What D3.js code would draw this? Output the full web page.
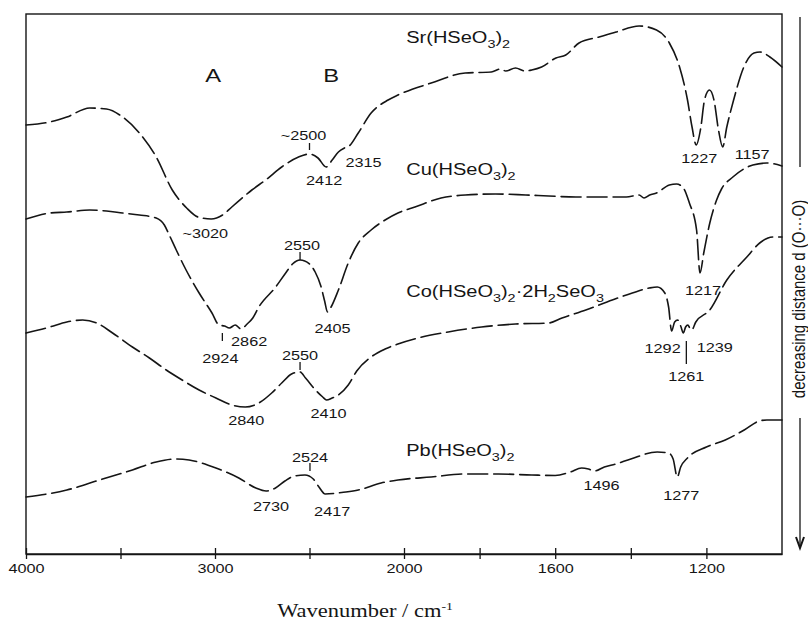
<!DOCTYPE html>
<html>
<head>
<meta charset="utf-8">
<script src="https://cdn.jsdelivr.net/npm/d3@7"></script>
<style>
  body { margin: 0; background: #fff; }
  svg text { font-family: "Liberation Sans", Arial, sans-serif; fill: #151515; }
</style>
</head>
<body>
<svg id="chart" width="808" height="621"></svg>
<script>
// ---- spectra: [wavenumber (cm-1), relative transmittance (offset, a.u.)] ----
const srSpectrum = [
  [4000,85.8],[3874,86.4],[3784,87.4],[3663,89.2],[3574,89.0],[3489,87.4],[3400,84.2],
  [3311,79.4],[3226,72.8],[3150,69.2],[3090,67.4],[3020,67.0],[2960,67.8],[2911,69.4],
  [2805,72.8],[2732,74.8],[2647,77.4],[2558,79.4],[2500,80.0],[2455,79.2],[2412,77.4],
  [2380,78.8],[2347,80.4],[2315,81.2],[2290,81.6],[2242,84.2],[2174,88.2],[2084,90.8],
  [2032,91.8],[1928,94.2],[1838,96.2],[1769,96.4],[1745,97.0],[1731,96.6],[1705,97.2],
  [1680,96.6],[1662,96.8],[1636,97.4],[1598,99.2],[1572,99.8],[1537,102.2],[1484,103.4],
  [1439,104.4],[1378,105.6],[1332,104.8],[1298,102.2],[1271,97.4],[1250,90.8],[1238,85.4],
  [1227,81.8],[1215,85.2],[1205,90.8],[1192,92.8],[1180,90.8],[1168,84.8],[1157,81.4],
  [1146,85.4],[1128,90.8],[1101,97.4],[1074,100.2],[1058,100.4],[1032,99.4],[1000,97.4]
];
const cuSpectrum = [
  [4000,67.0],[3874,68.2],[3784,68.4],[3663,68.8],[3574,68.6],[3489,68.2],[3400,67.8],
  [3311,67.2],[3268,65.8],[3242,63.8],[3205,60.8],[3153,56.8],[3084,52.2],[3016,48.2],
  [2979,45.8],[2950,45.6],[2924,45.2],[2893,45.8],[2862,45.0],[2830,46.0],[2800,47.2],
  [2768,49.4],[2679,53.4],[2626,56.2],[2590,58.0],[2550,58.8],[2500,58.0],[2470,56.4],
  [2440,53.6],[2420,50.6],[2405,48.4],[2389,49.2],[2347,52.8],[2295,58.2],[2242,62.2],
  [2174,64.8],[2100,66.8],[2032,68.2],[1971,69.4],[1902,71.2],[1838,71.8],[1758,72.0],
  [1678,71.8],[1617,71.6],[1545,71.4],[1465,71.4],[1412,71.4],[1378,71.8],[1365,71.2],
  [1350,71.8],[1332,72.2],[1298,73.8],[1279,74.0],[1261,73.2],[1245,70.2],[1226,64.8],
  [1217,56.2],[1207,60.2],[1191,66.2],[1173,70.8],[1160,73.0],[1130,75.4],[1077,77.8],
  [1040,78.2],[1000,77.6]
];
const coSpectrum = [
  [4000,44.2],[3874,45.4],[3784,46.4],[3700,46.8],[3626,46.2],[3542,44.2],[3437,41.4],
  [3347,39.2],[3258,36.8],[3174,34.8],[3084,32.8],[2995,31.2],[2911,29.8],[2840,29.4],
  [2768,30.2],[2700,32.2],[2647,34.2],[2595,36.0],[2550,36.4],[2521,35.2],[2468,32.8],
  [2430,31.4],[2410,30.8],[2380,31.2],[2347,31.8],[2295,33.8],[2250,36.6],[2174,39.4],
  [2100,41.0],[2032,42.0],[1963,43.2],[1883,44.4],[1795,45.4],[1705,46.0],[1617,46.2],
  [1582,47.2],[1519,48.8],[1449,50.8],[1396,52.2],[1351,53.2],[1330,53.4],[1310,52.2],
  [1300,49.4],[1292,44.6],[1284,46.4],[1276,46.8],[1268,45.6],[1261,44.2],[1255,45.4],
  [1249,45.8],[1244,45.2],[1239,44.8],[1228,46.4],[1191,48.8],[1146,54.8],[1093,59.4],
  [1059,62.2],[1024,63.4],[1000,63.4]
];
const pbSpectrum = [
  [4000,11.4],[3784,12.8],[3611,14.8],[3437,16.8],[3311,18.4],[3205,19.0],[3137,18.8],
  [2995,17.2],[2874,15.2],[2784,13.2],[2730,12.6],[2680,13.2],[2630,14.6],[2580,15.6],
  [2524,15.8],[2480,15.0],[2450,13.4],[2417,12.0],[2370,12.1],[2330,12.3],[2242,12.8],
  [2121,14.2],[2032,14.8],[1928,15.4],[1838,16.0],[1750,16.0],[1662,15.8],[1600,15.7],
  [1560,16.4],[1530,17.2],[1512,17.0],[1496,16.6],[1470,17.4],[1440,18.0],[1400,19.0],
  [1330,20.4],[1300,20.2],[1288,19.0],[1277,15.4],[1268,17.4],[1250,19.2],[1200,21.4],
  [1150,22.8],[1100,24.8],[1060,26.6],[1040,26.8],[1000,26.8]
];

// ---- compound names (underscore marks a subscript digit) ----
const compounds = ["Sr(HSeO_3)_2", "Cu(HSeO_3)_2", "Co(HSeO_3)_2\u00B72H_2SeO_3", "Pb(HSeO_3)_2"];

// ---- assigned band positions and their labels ----
const srPeaks = [2500, 2412, 2315, 3020, 1227, 1157];
const srPeakText = ["~2500", "2412", "2315", "~3020", "1227", "1157"];
const cuPeaks = [2550, 2405, 2924, 2862, 1217];
const cuPeakText = ["2550", "2405", "2924", "2862", "1217"];
const coPeaks = [2550, 2840, 2410, 1292, 1261, 1239];
const coPeakText = ["2550", "2840", "2410", "1292", "1261", "1239"];
const pbPeaks = [2524, 2730, 2417, 1496, 1277];
const pbPeakText = ["2524", "2730", "2417", "1496", "1277"];

// ---- axis ticks ----
const tickValues = [4000, 3500, 3000, 2500, 2000, 1800, 1600, 1400, 1200];
const tickLabels = ["4000", "", "3000", "", "2000", "", "1600", "", "1200"];
const regionLabels = ["A", "B"];
const regionWavenumbers = [3010, 2385];

// ---- layout ----
const plot = { left: 26, right: 782, top: 14, bottom: 554 };
const SX = 1.25;        // horizontal stretch of the lettering
const INK = "#151515";

// label offsets (px) from the curve point at the band position
const peakLayout = {
  Sr: [ {dx:-6, dy:-14, tick:[0,-11,-4]}, {dx:-2, dy:18}, {dx:1, dy:19, anchor:"start"},
        {dx:-6, dy:19}, {dx:3, dy:18}, {dx:12, dy:12, anchor:"start"} ],
  Cu: [ {dx:2, dy:-10, tick:[0,-8,0]}, {dx:5, dy:21}, {dx:-9, dy:35, tick:[-7,5,13]},
        {dx:-10, dy:17, anchor:"start"}, {dx:3, dy:22} ],
  Co: [ {dx:0, dy:-12, tick:[0,-10,-2]}, {dx:1, dy:18}, {dx:2, dy:18}, {dx:-9, dy:22},
        {dx:3, dy:48, tick:[3,8,31]}, {dx:5, dy:22, anchor:"start"} ],
  Pb: [ {dx:5, dy:-13, tick:[5,-12,-4]}, {dx:5, dy:20}, {dx:7, dy:22}, {dx:7, dy:19}, {dx:4, dy:23} ]
};
const nameValues = [102.2, 75.8, 51.4, 19.6];   // vertical place of each compound name
const nameWavenumber = 1994;

const series = [
  { key: "Sr", data: srSpectrum, peaks: srPeaks, text: srPeakText },
  { key: "Cu", data: cuSpectrum, peaks: cuPeaks, text: cuPeakText },
  { key: "Co", data: coSpectrum, peaks: coPeaks, text: coPeakText },
  { key: "Pb", data: pbSpectrum, peaks: pbPeaks, text: pbPeakText }
];

// ---- scales: the wavenumber axis doubles its scale below 2000 cm-1 ----
const x = d3.scaleLinear()
  .domain([4000, 2000, 1000])
  .range([plot.left, (plot.left + plot.right) / 2, plot.right]);
const y = d3.scaleLinear().domain([0, 108]).range([plot.bottom, plot.top]);

const svg = d3.select("#chart");

// text helper: "_" marks a subscript character
function addText(sel, px, py, str, opts = {}) {
  const size = opts.size || 13;
  const t = sel.append("text")
    .attr("transform", `translate(${px},${py}) scale(${opts.sx ?? SX},1)`)
    .attr("text-anchor", opts.anchor || "middle")
    .style("font-size", size + "px");
  if (opts.family) t.style("font-family", opts.family);
  const tokens = [];
  for (let i = 0; i < str.length; i++) {
    if (str[i] === "_") { tokens.push({ s: str[i + 1], sub: true }); i++; }
    else if (tokens.length && !tokens[tokens.length - 1].sub) tokens[tokens.length - 1].s += str[i];
    else tokens.push({ s: str[i], sub: false });
  }
  let shifted = 0;
  const off = size * 0.3;
  tokens.forEach(tk => {
    const sp = t.append("tspan").text(tk.s);
    if (tk.sub) {
      sp.style("font-size", (size * 0.72) + "px").attr("dy", off - shifted);
      shifted = off;
    } else {
      sp.attr("dy", -shifted);
      shifted = 0;
    }
  });
  return t;
}

// value of a spectrum at a given wavenumber (linear between samples)
function valueAt(data, wn) {
  for (let i = 0; i < data.length - 1; i++) {
    const [w0, v0] = data[i], [w1, v1] = data[i + 1];
    if (wn <= w0 && wn >= w1) return v0 + (v1 - v0) * (w0 - wn) / (w0 - w1);
  }
  return data[data.length - 1][1];
}

// ---- frame ----
svg.append("rect")
  .attr("x", plot.left).attr("y", plot.top)
  .attr("width", plot.right - plot.left).attr("height", plot.bottom - plot.top)
  .attr("fill", "none").attr("stroke", INK).attr("stroke-width", 1.4);

// ---- bottom axis: ticks cross the axis line ----
const axisDown = d3.axisBottom(x).tickValues(tickValues).tickSize(5).tickPadding(5)
  .tickFormat((d, i) => tickLabels[i]).tickSizeOuter(0);
const axisUp = d3.axisTop(x).tickValues(tickValues).tickSize(6).tickFormat("").tickSizeOuter(0);

const gAx = svg.append("g").attr("transform", `translate(0,${plot.bottom})`).call(axisDown);
svg.append("g").attr("transform", `translate(0,${plot.bottom})`).call(axisUp)
  .call(g => g.select(".domain").remove());
svg.selectAll(".tick line").attr("stroke", INK).attr("stroke-width", 1.3);
gAx.select(".domain").attr("stroke", INK).attr("stroke-width", 1.4);
gAx.selectAll(".tick text")
  .attr("fill", INK)
  .style("font-family", '"Liberation Sans", Arial, sans-serif')
  .style("font-size", "13px")
  .attr("transform", `scale(${SX},1)`);

// axis title
const title = svg.append("text")
  .attr("transform", `translate(365,617) scale(${SX},1)`)
  .attr("text-anchor", "middle")
  .style("font-family", '"Liberation Serif", "Times New Roman", serif')
  .style("font-size", "18px");
title.append("tspan").text("Wavenumber / cm");
title.append("tspan").text("-1").style("font-size", "11px").attr("dy", -7);

// ---- spectra ----
const line = d3.line()
  .x(d => x(d[0]))
  .y(d => y(d[1]))
  .curve(d3.curveMonotoneX);

series.forEach((s, si) => {
  svg.append("path")
    .datum(s.data)
    .attr("d", line)
    .attr("fill", "none")
    .attr("stroke", INK)
    .attr("stroke-width", 1.6)
    .attr("stroke-dasharray", "20,6")
    .attr("stroke-linecap", "round");

  addText(svg, x(nameWavenumber), y(nameValues[si]), compounds[si], { size: 16, anchor: "start" });

  s.peaks.forEach((wn, i) => {
    const lay = peakLayout[s.key][i];
    const cx = x(wn), cy = y(valueAt(s.data, wn));
    addText(svg, cx + lay.dx, cy + lay.dy, s.text[i], { size: 13, anchor: lay.anchor || "middle" });
    if (lay.tick) {
      svg.append("line")
        .attr("x1", cx + lay.tick[0]).attr("x2", cx + lay.tick[0])
        .attr("y1", cy + lay.tick[1]).attr("y2", cy + lay.tick[2])
        .attr("stroke", INK).attr("stroke-width", 1.3);
    }
  });
});

// ---- band regions ----
regionLabels.forEach((lab, i) => {
  addText(svg, x(regionWavenumbers[i]), y(94.4), lab, { size: 19 });
});

// ---- O···O distance indicator on the right ----
const rx = 800;
svg.append("line").attr("x1", rx).attr("x2", rx).attr("y1", 17).attr("y2", 167)
  .attr("stroke", INK).attr("stroke-width", 1.3);
svg.append("text")
  .attr("transform", `translate(${rx + 5},299) scale(${SX},1) rotate(-90)`)
  .attr("text-anchor", "middle")
  .style("font-size", "15px")
  .text("decreasing distance d (O\u00B7\u00B7\u00B7O)");
svg.append("line").attr("x1", rx).attr("x2", rx).attr("y1", 418).attr("y2", 546)
  .attr("stroke", INK).attr("stroke-width", 1.3);
svg.append("path")
  .attr("d", `M${rx - 4},${537} L${rx},${548} L${rx + 4},${537}`)
  .attr("fill", "none").attr("stroke", INK).attr("stroke-width", 2);
</script>
</body>
</html>
